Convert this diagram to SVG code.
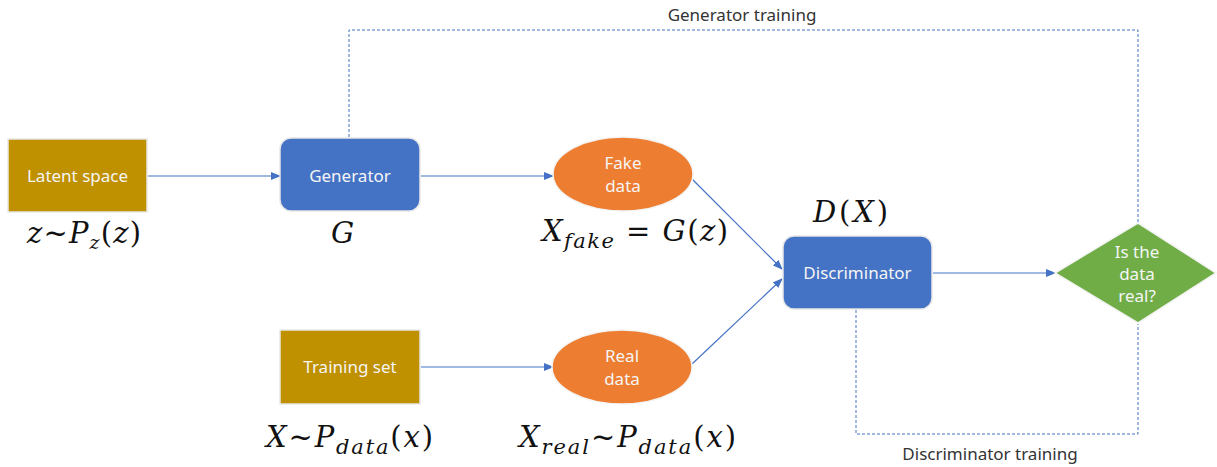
<svg xmlns="http://www.w3.org/2000/svg" width="1217" height="467" viewBox="0 0 1217 467">
<defs>
<marker id="arr" markerWidth="10" markerHeight="8" refX="9" refY="4" orient="auto" markerUnits="userSpaceOnUse">
<path d="M0,0 L10,4 L0,8 Z" fill="#4472C4"/>
</marker>
<style>
.box{fill:#BF9000;stroke:#E8E8E8;stroke-width:1.5}
.rbox{fill:#4472C4;stroke:#E8E8E8;stroke-width:1.5}
.ell{fill:#ED7D31;stroke:#F4F4F4;stroke-width:1.5}
.dia{fill:#70AD47;stroke:#F4F4F4;stroke-width:1.5}
.lbl{font-family:"Noto Sans","Open Sans",sans-serif;font-size:17px;fill:#F5F5F5;text-anchor:middle}
.cap{font-family:"Noto Sans","Open Sans",sans-serif;font-size:17px;fill:#333333;text-anchor:middle}
.math{font-family:"DejaVu Serif","Liberation Serif",serif;font-style:italic;font-size:29px;fill:#111111}
.up{font-style:normal}
.con{stroke:#4472C4;stroke-width:1.2;fill:none}
.dash{stroke:#4472C4;stroke-width:1;fill:none;stroke-dasharray:3,2}
</style>
</defs>
<rect width="1217" height="467" fill="#FFFFFF"/>
<g id="connectors">
<line class="con" x1="148" y1="176" x2="280" y2="176" marker-end="url(#arr)"/>
<line class="con" x1="421" y1="176" x2="553" y2="176" marker-end="url(#arr)"/>
<line class="con" x1="421" y1="367" x2="553" y2="367" marker-end="url(#arr)"/>
<line class="con" x1="692" y1="179" x2="782" y2="269" marker-end="url(#arr)"/>
<line class="con" x1="692" y1="364" x2="782" y2="279" marker-end="url(#arr)"/>
<line class="con" x1="933" y1="273" x2="1055" y2="273" marker-end="url(#arr)"/>
<polyline class="dash" points="349,137 349,30 1138,30 1138,222"/>
<polyline class="dash" points="856,310 856,434 1138,434 1138,324"/>
<text class="cap" x="742" y="21">Generator training</text>
<text class="cap" x="990" y="460">Discriminator training</text>
</g>
<g id="latent">
<rect class="box" x="8" y="139" width="139" height="73"/>
<text class="lbl" x="77.5" y="182">Latent space</text>
<text class="math" x="27" y="243" textLength="114" lengthAdjust="spacing">z<tspan class="up">~</tspan>P<tspan font-size="19" dy="6">z</tspan><tspan class="up" dy="-6">(</tspan>z<tspan class="up">)</tspan></text>
</g>
<g id="generator">
<rect class="rbox" x="280" y="138" width="140" height="73" rx="11"/>
<text class="lbl" x="350" y="182">Generator</text>
<text class="math" x="331" y="243">G</text>
</g>
<g id="fake">
<ellipse class="ell" cx="623" cy="174" rx="70" ry="37"/>
<text class="lbl" x="623" y="169">Fake</text>
<text class="lbl" x="623" y="192">data</text>
<text class="math" x="542" y="241" textLength="186" lengthAdjust="spacing">X<tspan font-size="21" dy="7">fake</tspan><tspan class="up" dy="-7"> = </tspan>G<tspan class="up">(</tspan>z<tspan class="up">)</tspan></text>
</g>
<g id="training">
<rect class="box" x="280" y="330" width="140" height="74"/>
<text class="lbl" x="350" y="373">Training set</text>
<text class="math" x="266" y="447" textLength="167" lengthAdjust="spacing">X<tspan class="up">~</tspan>P<tspan font-size="21" dy="7">data</tspan><tspan class="up" dy="-7">(</tspan>x<tspan class="up">)</tspan></text>
</g>
<g id="real">
<ellipse class="ell" cx="622" cy="367" rx="70" ry="37"/>
<text class="lbl" x="622" y="362">Real</text>
<text class="lbl" x="622" y="385">data</text>
<text class="math" x="519" y="447" textLength="217" lengthAdjust="spacing">X<tspan font-size="21" dy="7">real</tspan><tspan class="up" dy="-7">~</tspan>P<tspan font-size="21" dy="7">data</tspan><tspan class="up" dy="-7">(</tspan>x<tspan class="up">)</tspan></text>
</g>
<g id="discriminator">
<rect class="rbox" x="783" y="236" width="149" height="73" rx="11"/>
<text class="lbl" x="857.5" y="279">Discriminator</text>
<text class="math" x="813" y="222" textLength="75" lengthAdjust="spacing">D<tspan class="up">(</tspan>X<tspan class="up">)</tspan></text>
</g>
<g id="decision">
<polygon class="dia" points="1055,273 1138,223 1216,273 1138,323"/>
<text class="lbl" x="1137" y="258">Is the</text>
<text class="lbl" x="1137" y="280">data</text>
<text class="lbl" x="1137" y="302">real?</text>
</g>
</svg>
